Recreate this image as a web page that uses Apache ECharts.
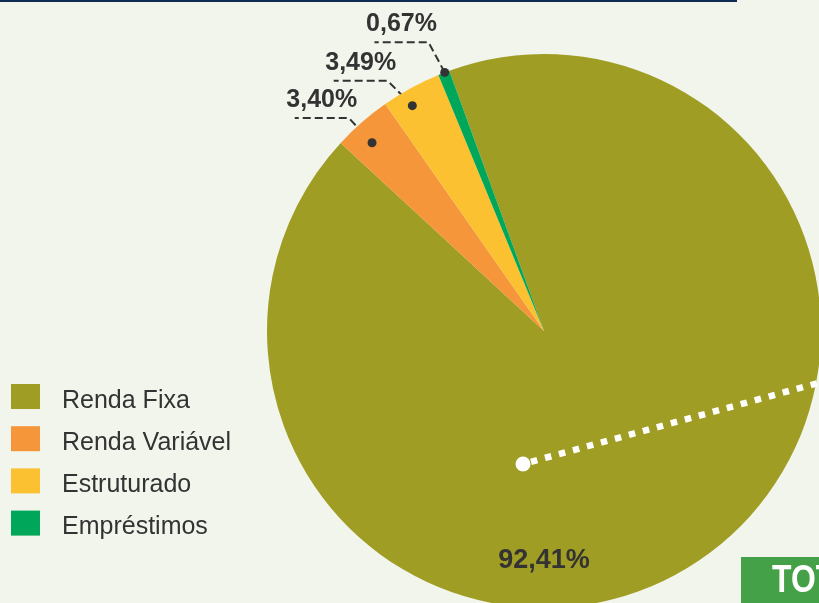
<!DOCTYPE html>
<html>
<head>
<meta charset="utf-8">
<script src="https://cdn.jsdelivr.net/npm/echarts@6/dist/echarts.min.js"></script>
<style>
  html, body { margin: 0; padding: 0; background: #f2f5ec; }
  #chart { width: 819px; height: 603px; }
</style>
</head>
<body>
<div id="chart"></div>
<script>
// === Dados ===================================================================
const categories = ['Renda Fixa', 'Renda Variável', 'Estruturado', 'Empréstimos'];
const shares     = [92.41, 3.40, 3.49, 0.67];
const colors     = ['#a09d25', '#f6963a', '#fbc130', '#00a65a'];

// === Geometria / estilo ======================================================
const CX = 544, CY = 331, R = 277, START = 110;
const BOLD = "'Liberation Sans Narrow', 'Liberation Sans', Arial, sans-serif";
const REGULAR = "'Liberation Sans', Arial, sans-serif";
// chamadas (leader lines): recuo do ponto, extensão da dobra, desvio angular (graus)
const DOT_INSET = [0, 22, 16, 0];
const BEND_OUT  = [0, 12, 18, 34];
const DOT_TILT  = [0, 1.3, 1.6, -0.2];
const BEND_TILT = [0, 1.4, 3.3, 0.6];
const HLEN = 54;

const fmtPct = v => v.toFixed(2).replace('.', ',') + '%';
const total = shares.reduce((a, b) => a + b, 0);

function midAngleDeg(i) {
  const before = shares.slice(0, i).reduce((a, b) => a + b, 0);
  return START - (before + shares[i] / 2) / total * 360;
}
const polar = (deg, r) => {
  const a = deg * Math.PI / 180;
  return [CX + r * Math.cos(a), CY - r * Math.sin(a)];
};

function leader(i) {
  const m = midAngleDeg(i);
  const dot = polar(m + DOT_TILT[i], R - DOT_INSET[i]);
  const bend = polar(m + BEND_TILT[i], R + BEND_OUT[i]);
  const end = [bend[0] - HLEN, bend[1]];
  return { dot, bend, end };
}

// === Chart ===================================================================
const chart = echarts.init(document.getElementById('chart'));

const dots = [1, 2, 3].map(i => {
  const p = leader(i).dot;
  return { type: 'circle', z: 100, shape: { cx: p[0], cy: p[1], r: 4.5 }, style: { fill: '#333' } };
});

chart.setOption({
  backgroundColor: '#f2f5ec',
  animation: false,
  legend: {
    orient: 'vertical', left: 11, top: 384, padding: 0,
    icon: 'rect', itemWidth: 29, itemHeight: 25, itemGap: 12.7,
    formatter: '{t|{name}}',
    textStyle: {
      padding: [0, 0, 0, 17],
      rich: { t: { fontFamily: REGULAR, fontSize: 25, color: '#333', padding: [9, 0, 0, 0] } }
    },
    data: categories
  },
  graphic: [
    { type: 'rect', z: 100, shape: { x: 0, y: 0, width: 737, height: 2 }, style: { fill: '#0f2d52' } },
    { type: 'line', z: 100, shape: { x1: 531, y1: 461.8, x2: 840, y2: 377 },
      style: { stroke: '#fff', lineWidth: 6.5, lineDash: [6.5, 8] } },
    { type: 'circle', z: 100, shape: { cx: 523, cy: 464, r: 7.5 }, style: { fill: '#fff' } },
    { type: 'rect', z: 100, shape: { x: 741, y: 557, width: 100, height: 60 }, style: { fill: '#44a148' } },
    { type: 'text', z: 101, x: 772, y: 582, scaleX: 0.84,
      style: { text: 'TOTAL', fill: '#fff', font: "bold 38px " + BOLD, verticalAlign: 'middle' } },
    ...dots
  ],
  series: [{
    type: 'pie',
    center: [CX, CY], radius: R,
    startAngle: START, clockwise: true,
    silent: true,
    label: {
      show: true, formatter: p => fmtPct(p.value), overflow: 'none',
      fontFamily: BOLD, fontWeight: 'bold', fontSize: 25, color: '#333'
    },
    labelLine: { show: true, lineStyle: { color: '#333', width: 2, type: [8, 4] } },
    labelLayout: p => {
      const i = p.dataIndex;
      if (i === 0) return { x: CX, y: CY + 230, align: 'center', verticalAlign: 'middle' };
      const L = leader(i);
      return {
        x: L.end[0] + HLEN / 2, y: L.end[1] - 18, align: 'center', verticalAlign: 'middle',
        labelLinePoints: [L.dot, L.bend, L.end]
      };
    },
    data: categories.map((n, i) => ({
      name: n, value: shares[i], itemStyle: { color: colors[i] },
      label: i === 0 ? { position: 'inside', fontSize: 27 } : {},
      labelLine: { show: i !== 0 }
    }))
  }]
});
</script>
</body>
</html>
